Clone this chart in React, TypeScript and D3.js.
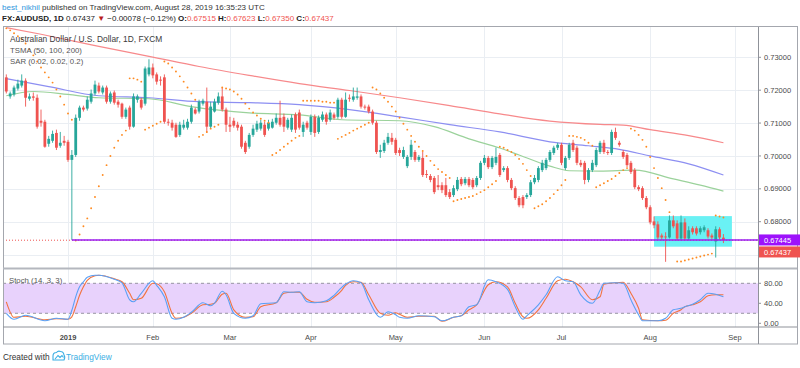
import React, { useEffect, useRef } from "react";
import * as d3 from "d3";

const W = 800;
const H = 368;
const FONT = "'Liberation Sans', Arial, sans-serif";

// trading-day index of the first session of each month shown on the time axis
const monthLabels = ["2019", "Feb", "Mar", "Apr", "May", "Jun", "Jul", "Aug", "Sep"];
const monthIdx = [16, 38, 58, 79, 101, 124, 144, 167, 189];

const priceTicks = [0.73, 0.72, 0.71, 0.7, 0.69, 0.68, 0.67];
const stochTicks = [80, 40, 0];

// daily OHLC, AUDUSD FXCM, Dec 2018 .. Aug 28 2019
const opens = [
  0.7239, 0.7181, 0.7187, 0.7205, 0.7214, 0.7229, 0.7174, 0.7181, 0.7177, 0.7107,
  0.7104, 0.7037, 0.7046, 0.707, 0.7031, 0.7046, 0.7043, 0.6988, 0.7003, 0.7116,
  0.7147, 0.7144, 0.7165, 0.719, 0.7214, 0.7193, 0.7208, 0.7165, 0.7193, 0.7165,
  0.7159, 0.7119, 0.7147, 0.7089, 0.7171, 0.7171, 0.7159, 0.7248, 0.7269, 0.7248,
  0.7232, 0.7239, 0.7104, 0.7101, 0.7095, 0.7064, 0.7086, 0.7086, 0.7104, 0.7141,
  0.7135, 0.7159, 0.7165, 0.7089, 0.7135, 0.7162, 0.7181, 0.7141, 0.7095, 0.7107,
  0.7095, 0.7089, 0.704, 0.7028, 0.7064, 0.708, 0.7083, 0.7095, 0.7083, 0.7086,
  0.7101, 0.7116, 0.7119, 0.7086, 0.708, 0.7126, 0.7132, 0.7073, 0.7101, 0.7073,
  0.7119, 0.7073, 0.711, 0.7126, 0.711, 0.7126, 0.7119, 0.7171, 0.7119, 0.7177,
  0.7171, 0.7177, 0.7181, 0.715, 0.715, 0.7135, 0.7101, 0.7012, 0.7015, 0.704,
  0.7055, 0.7049, 0.7018, 0.6997, 0.6969, 0.6997, 0.7012, 0.6988, 0.6994, 0.6945,
  0.6939, 0.6933, 0.6911, 0.6911, 0.6911, 0.689, 0.6881, 0.6899, 0.693, 0.6917,
  0.693, 0.6927, 0.6911, 0.6933, 0.6979, 0.6994, 0.6966, 0.6979, 0.7003, 0.6957,
  0.6963, 0.6927, 0.6902, 0.6872, 0.6875, 0.6875, 0.6881, 0.692, 0.6927, 0.6957,
  0.6963, 0.6988, 0.7009, 0.7025, 0.7034, 0.6963, 0.6994, 0.704, 0.7025, 0.6979,
  0.6979, 0.6927, 0.6957, 0.6972, 0.7012, 0.704, 0.7012, 0.7009, 0.7073, 0.704,
  0.7012, 0.7003, 0.6979, 0.6957, 0.6905, 0.6902, 0.6872, 0.6844, 0.6801, 0.6792,
  0.6758, 0.6755, 0.6752, 0.6804, 0.6795, 0.6749, 0.6798, 0.6749, 0.678, 0.678,
  0.6768, 0.6774, 0.6774, 0.6758, 0.674, 0.6777, 0.67515,
];
const highs = [
  0.7248, 0.7196, 0.7214, 0.7232, 0.7248, 0.7236, 0.719, 0.7193, 0.7187, 0.7141,
  0.711, 0.7061, 0.7077, 0.708, 0.7073, 0.7061, 0.7049, 0.7018, 0.7126, 0.7153,
  0.7153, 0.7181, 0.7202, 0.7229, 0.7223, 0.7214, 0.7214, 0.7196, 0.7199, 0.7171,
  0.7162, 0.7147, 0.7153, 0.719, 0.7187, 0.7177, 0.7272, 0.7294, 0.7281, 0.7254,
  0.7242, 0.7248, 0.7113, 0.711, 0.7101, 0.7104, 0.711, 0.7113, 0.7156, 0.7147,
  0.7171, 0.7174, 0.7208, 0.7165, 0.7174, 0.7193, 0.7208, 0.7147, 0.7119, 0.7116,
  0.7104, 0.7095, 0.7046, 0.707, 0.7095, 0.7107, 0.711, 0.7104, 0.711, 0.7113,
  0.7129, 0.7168, 0.7129, 0.7116, 0.7126, 0.7132, 0.7141, 0.7104, 0.7107, 0.7126,
  0.7126, 0.7123, 0.7135, 0.7132, 0.7141, 0.7132, 0.7177, 0.7177, 0.7193, 0.7187,
  0.7208, 0.7208, 0.7187, 0.7156, 0.7156, 0.7141, 0.7107, 0.7034, 0.7049, 0.707,
  0.707, 0.7055, 0.7025, 0.7028, 0.7003, 0.7049, 0.7018, 0.7003, 0.7012, 0.6957,
  0.6945, 0.6939, 0.6942, 0.692, 0.6933, 0.6899, 0.6911, 0.6936, 0.6936, 0.6936,
  0.6936, 0.6933, 0.6939, 0.6985, 0.7003, 0.7, 0.7, 0.7025, 0.7009, 0.6969,
  0.6969, 0.6933, 0.6908, 0.6878, 0.6881, 0.6887, 0.6927, 0.6942, 0.6969, 0.6988,
  0.6994, 0.7018, 0.7031, 0.704, 0.704, 0.7, 0.704, 0.7049, 0.7031, 0.6988,
  0.6985, 0.6963, 0.6988, 0.7025, 0.7046, 0.7049, 0.7018, 0.708, 0.7086, 0.7046,
  0.7018, 0.7009, 0.6985, 0.6963, 0.6911, 0.6908, 0.6878, 0.685, 0.6816, 0.6801,
  0.6764, 0.6768, 0.6819, 0.6819, 0.6804, 0.6819, 0.681, 0.6786, 0.6786, 0.6786,
  0.6786, 0.6789, 0.678, 0.6764, 0.6786, 0.6783, 0.67623,
];
const lows = [
  0.719, 0.7174, 0.7181, 0.7199, 0.7208, 0.715, 0.7168, 0.7168, 0.7083, 0.7089,
  0.7025, 0.7028, 0.704, 0.7018, 0.7025, 0.7031, 0.6982, 0.67445, 0.6997, 0.7107,
  0.7135, 0.7138, 0.7159, 0.7184, 0.719, 0.7187, 0.7159, 0.7159, 0.7156, 0.7147,
  0.7113, 0.7113, 0.708, 0.7086, 0.7162, 0.7141, 0.7153, 0.7242, 0.7236, 0.7217,
  0.7214, 0.7098, 0.7092, 0.7077, 0.7055, 0.7058, 0.708, 0.708, 0.7098, 0.7126,
  0.7129, 0.7153, 0.707, 0.7083, 0.7132, 0.7156, 0.7135, 0.7073, 0.7073, 0.7086,
  0.7077, 0.7022, 0.7006, 0.7022, 0.7058, 0.7073, 0.7077, 0.7058, 0.7077, 0.7083,
  0.7095, 0.7089, 0.7073, 0.708, 0.7073, 0.707, 0.708, 0.7058, 0.708, 0.7064,
  0.7058, 0.7067, 0.7104, 0.7095, 0.7104, 0.711, 0.7113, 0.7113, 0.7116, 0.7165,
  0.7165, 0.7171, 0.7144, 0.7141, 0.7129, 0.7095, 0.7006, 0.6994, 0.7009, 0.7034,
  0.7034, 0.7003, 0.7, 0.6991, 0.6963, 0.6988, 0.6982, 0.6982, 0.6936, 0.6933,
  0.692, 0.6884, 0.6896, 0.6887, 0.6875, 0.6869, 0.6875, 0.6893, 0.6908, 0.6911,
  0.6905, 0.6899, 0.6905, 0.6927, 0.6972, 0.696, 0.696, 0.6972, 0.6936, 0.6951,
  0.692, 0.6896, 0.6866, 0.6844, 0.6841, 0.6869, 0.6875, 0.6914, 0.692, 0.6951,
  0.6957, 0.6982, 0.7003, 0.7018, 0.6972, 0.6957, 0.6988, 0.7012, 0.6972, 0.6966,
  0.6914, 0.692, 0.6951, 0.6966, 0.7006, 0.7006, 0.7003, 0.7003, 0.7049, 0.7028,
  0.6991, 0.6966, 0.6945, 0.6899, 0.6893, 0.6866, 0.6838, 0.6792, 0.678, 0.6746,
  0.6743, 0.6678, 0.6749, 0.678, 0.6743, 0.6743, 0.6743, 0.6743, 0.6761, 0.6758,
  0.6761, 0.6768, 0.6749, 0.6746, 0.6691, 0.6746, 0.6735,
];
const closes = [
  0.7196, 0.719, 0.7208, 0.722, 0.7229, 0.7177, 0.7181, 0.7177, 0.7089, 0.7101,
  0.7028, 0.7052, 0.7067, 0.7025, 0.704, 0.704, 0.6988, 0.7003, 0.7116, 0.7147,
  0.7141, 0.7171, 0.719, 0.7217, 0.7196, 0.7208, 0.7165, 0.719, 0.7162, 0.7156,
  0.7119, 0.7141, 0.7089, 0.7181, 0.7181, 0.7147, 0.7266, 0.7269, 0.7245, 0.7226,
  0.7229, 0.7104, 0.7101, 0.7086, 0.7058, 0.7095, 0.7095, 0.7104, 0.7147, 0.7129,
  0.7165, 0.7168, 0.7089, 0.715, 0.7165, 0.7181, 0.7141, 0.7095, 0.7089, 0.7092,
  0.7086, 0.7028, 0.7012, 0.7064, 0.7083, 0.7098, 0.7101, 0.7064, 0.7101, 0.7104,
  0.7116, 0.7095, 0.7089, 0.711, 0.7116, 0.708, 0.7086, 0.7095, 0.7086, 0.7119,
  0.707, 0.7116, 0.7126, 0.7104, 0.7132, 0.7116, 0.7171, 0.7119, 0.7171, 0.7174,
  0.7181, 0.7181, 0.715, 0.7147, 0.7135, 0.7101, 0.7012, 0.7018, 0.704, 0.7058,
  0.7043, 0.7009, 0.7009, 0.7018, 0.6997, 0.7034, 0.6988, 0.6997, 0.6942, 0.6942,
  0.6927, 0.689, 0.6905, 0.6896, 0.6881, 0.6875, 0.6902, 0.6927, 0.6914, 0.693,
  0.6911, 0.6905, 0.6933, 0.6979, 0.6994, 0.6966, 0.6994, 0.6997, 0.6942, 0.6963,
  0.6927, 0.6902, 0.6872, 0.685, 0.685, 0.6881, 0.692, 0.6933, 0.6963, 0.6979,
  0.6988, 0.7012, 0.7025, 0.7034, 0.6979, 0.6994, 0.7034, 0.7018, 0.6979, 0.6972,
  0.6927, 0.6957, 0.6979, 0.7018, 0.704, 0.7012, 0.7009, 0.7073, 0.7055, 0.7034,
  0.6997, 0.6972, 0.6951, 0.6905, 0.6899, 0.6872, 0.6844, 0.6798, 0.6789, 0.6752,
  0.6752, 0.6753, 0.6804, 0.6786, 0.6749, 0.6798, 0.6749, 0.6774, 0.6768, 0.6764,
  0.678, 0.6783, 0.6755, 0.6752, 0.6777, 0.6752, 0.67437,
];

// moving averages: [day index, price]
const ma50: [number, number][] = [
  [0, 0.7183], [7, 0.7196], [16, 0.7187], [24, 0.7177], [37, 0.7174], [48, 0.715],
  [63, 0.7131], [76, 0.7125], [87, 0.711], [102, 0.7107], [111, 0.7089], [120, 0.7052],
  [128, 0.7024], [133, 0.7003], [141, 0.6969], [146, 0.6955], [154, 0.6954], [163, 0.6957],
  [173, 0.693], [180, 0.6911], [186, 0.6893],
];
const ma100: [number, number][] = [
  [0, 0.7235], [11, 0.7211], [24, 0.7183], [37, 0.7177], [50, 0.7165], [63, 0.7162],
  [76, 0.7156], [89, 0.7141], [102, 0.7119], [115, 0.7095], [128, 0.7073], [141, 0.7043],
  [151, 0.7031], [159, 0.702], [167, 0.7], [177, 0.6976], [186, 0.6942],
];
const ma200: [number, number][] = [
  [0, 0.739], [9, 0.737], [24, 0.7333], [37, 0.7303], [50, 0.7272], [63, 0.7245],
  [76, 0.722], [89, 0.7199], [102, 0.7177], [115, 0.7153], [128, 0.7128], [141, 0.7106],
  [154, 0.7096], [160, 0.7094], [167, 0.708], [177, 0.7062], [186, 0.704],
];

// parabolic SAR dots: [day index, price]
const sar: [number, number][] = [
  [0, 0.7388], [1, 0.7382], [2, 0.7373], [3, 0.7364], [4, 0.7355], [5, 0.7342], [6, 0.7324],
  [7, 0.7306], [8, 0.7287], [9, 0.7269], [10, 0.7254], [11, 0.7239], [12, 0.7223], [13, 0.7202],
  [14, 0.7181], [15, 0.7156], [16, 0.7129], [17, 0.711],
  [18, 0.6743], [19, 0.6761], [20, 0.6786], [21, 0.681], [22, 0.6841], [23, 0.6875], [24, 0.6908],
  [25, 0.6942], [26, 0.6972], [27, 0.7], [28, 0.7025], [29, 0.7046], [30, 0.7064], [31, 0.7077],
  [32, 0.7236], [33, 0.7236], [34, 0.7232], [35, 0.7226],
  [36, 0.708], [37, 0.7086], [38, 0.7092], [39, 0.7098], [40, 0.7104],
  [41, 0.7287], [42, 0.7281], [43, 0.7269], [44, 0.7257], [45, 0.7242], [46, 0.7226], [47, 0.7208],
  [48, 0.719], [49, 0.7171],
  [50, 0.7058], [51, 0.7064], [52, 0.7073], [53, 0.7083], [54, 0.7089], [55, 0.7095],
  [56, 0.7208], [57, 0.7205], [58, 0.7202], [59, 0.7196], [60, 0.7187], [61, 0.7174], [62, 0.7159],
  [63, 0.7144], [64, 0.7132], [65, 0.7123], [66, 0.7113], [67, 0.7107], [68, 0.7101],
  [69, 0.7003], [70, 0.7009], [71, 0.7018], [72, 0.7028], [73, 0.7037], [74, 0.7046], [75, 0.7055],
  [76, 0.7061],
  [77, 0.7168], [78, 0.7168], [79, 0.7168], [80, 0.7168], [81, 0.7168], [82, 0.7165], [83, 0.7165],
  [84, 0.7162], [85, 0.7162],
  [86, 0.7052], [87, 0.7058], [88, 0.7064], [89, 0.707], [90, 0.7077], [91, 0.7083], [92, 0.7089],
  [93, 0.7095], [94, 0.7101],
  [95, 0.7208], [96, 0.7202], [97, 0.719], [98, 0.7177], [99, 0.7165], [100, 0.715], [101, 0.7135],
  [102, 0.7116], [103, 0.7098], [104, 0.708], [105, 0.7061], [106, 0.7043], [107, 0.7028],
  [108, 0.7015], [109, 0.7], [110, 0.6985], [111, 0.6972], [112, 0.696], [113, 0.6951],
  [114, 0.6942], [115, 0.6933],
  [116, 0.6862], [117, 0.6866], [118, 0.6869], [119, 0.6872], [120, 0.6875], [121, 0.6878],
  [122, 0.6884], [123, 0.689], [124, 0.6896], [125, 0.6905], [126, 0.6914], [127, 0.6924],
  [128, 0.7028], [129, 0.7025], [130, 0.7018], [131, 0.7012], [132, 0.7003], [133, 0.6991],
  [134, 0.6976], [135, 0.6957], [136, 0.6939],
  [137, 0.6841], [138, 0.6847], [139, 0.6853], [140, 0.6862], [141, 0.6872], [142, 0.6884],
  [143, 0.6896], [144, 0.6911], [145, 0.6927],
  [146, 0.7061], [147, 0.7061], [148, 0.7058], [149, 0.7055], [150, 0.7049], [151, 0.704], [152, 0.7031],
  [153, 0.6905], [154, 0.6911], [155, 0.6917], [156, 0.6924], [157, 0.693], [158, 0.6939],
  [159, 0.6948], [160, 0.6957], [161, 0.6963],
  [162, 0.7083], [163, 0.7077], [164, 0.7064], [165, 0.7049], [166, 0.7028], [167, 0.6997],
  [168, 0.6963], [169, 0.6933], [170, 0.6902], [171, 0.6866], [172, 0.6829],
  [174, 0.6679], [175, 0.6679], [176, 0.6682], [177, 0.6685], [178, 0.6688], [179, 0.6691],
  [180, 0.6694], [181, 0.6697], [182, 0.67], [183, 0.6703],
  [184, 0.6819], [185, 0.6816], [186, 0.6813],
];

// Stoch (14,3,3): [day index, value]
const stochK: [number, number][] = [
  [0, 20], [2, 8], [5, 16], [10, 5], [13, 10], [16, 8], [17, 26], [18, 53], [19, 73], [20, 83],
  [21, 92], [23, 96], [24, 96], [28, 88], [30, 81], [32, 47], [33, 43], [35, 60], [38, 85], [39, 76],
  [41, 53], [43, 10], [44, 8], [46, 12], [48, 22], [51, 41], [53, 35], [54, 40], [56, 64], [57, 57],
  [59, 20], [62, 10], [64, 15], [66, 39], [70, 41], [72, 63], [74, 62], [76, 63], [78, 43], [80, 41],
  [83, 45], [85, 56], [87, 72], [88, 78], [90, 85], [92, 81], [94, 47], [97, 12], [99, 23], [101, 17],
  [102, 12], [104, 10], [107, 15], [111, 13], [113, 5], [116, 12], [118, 15], [120, 33], [122, 37],
  [125, 87], [127, 83], [130, 68], [132, 33], [134, 8], [135, 15], [138, 37], [140, 57], [143, 93],
  [145, 85], [147, 83], [149, 57], [152, 40], [154, 66], [155, 80], [158, 81], [160, 80], [162, 47],
  [164, 17], [165, 5], [169, 5], [171, 10], [173, 27], [175, 30], [176, 33], [178, 38], [180, 47],
  [182, 60], [184, 58], [186, 53],
];
const stochD: [number, number][] = [
  [0, 43], [2, 12], [5, 14], [10, 7], [13, 9], [16, 8], [17, 13], [18, 33], [19, 56], [20, 73],
  [21, 86], [23, 95], [24, 96], [28, 89], [30, 83], [32, 60], [33, 47], [35, 50], [38, 80], [39, 79],
  [41, 63], [43, 20], [44, 10], [46, 12], [48, 20], [51, 37], [53, 38], [54, 40], [56, 58], [57, 60],
  [59, 27], [62, 12], [64, 13], [66, 33], [70, 41], [72, 60], [74, 62], [76, 62], [78, 48], [80, 42],
  [83, 43], [85, 52], [87, 66], [88, 76], [90, 83], [92, 82], [94, 57], [97, 20], [99, 16], [101, 21],
  [102, 18], [104, 12], [107, 14], [111, 14], [113, 4], [116, 12], [118, 15], [120, 27], [122, 37],
  [125, 77], [127, 83], [130, 73], [132, 40], [134, 13], [135, 10], [138, 27], [140, 50], [143, 85],
  [145, 88], [147, 83], [149, 73], [152, 47], [154, 53], [155, 78], [158, 81], [160, 82], [162, 60],
  [164, 30], [165, 7], [169, 5], [171, 6], [173, 20], [175, 27], [176, 33], [178, 37], [180, 43],
  [182, 55], [184, 57], [186, 57],
];

// drawings on the chart
const flashLow = 0.67445;
const flashIdx = 17;
const rangeBox = { from: 168, to: 188.2, top: 0.6817, bottom: 0.6724 };

const UP = "#26a69a";
const DOWN = "#ef5350";

function draw(el: SVGSVGElement) {
  const svg = d3.select(el);
  svg.selectAll("*").remove();

  const left = 3, axisX = 758, right = 797;
  const pTop = 27, pBot = 268, sTop = 269, sBot = 327, bottom = 344;

  const x = d3.scaleLinear().domain([16, 189]).range([68, 735]);
  const y = d3.scaleLinear().domain([0.68, 0.73]).range([221.7, 57.3]);
  const ys = d3.scaleLinear().domain([0, 80]).range([323.3, 283.3]);

  svg.append("rect").attr("width", W).attr("height", H).attr("fill", "#fff");

  const defs = svg.append("defs");
  defs.append("clipPath").attr("id", "cp-price").append("rect")
    .attr("x", left).attr("y", pTop).attr("width", axisX - left).attr("height", pBot - pTop);
  defs.append("clipPath").attr("id", "cp-stoch").append("rect")
    .attr("x", left).attr("y", sTop).attr("width", axisX - left).attr("height", sBot - sTop);

  // grid
  const grid = svg.append("g").attr("stroke", "#eaeef3").attr("stroke-width", 1);
  priceTicks.forEach(t => {
    grid.append("line").attr("x1", left).attr("x2", axisX)
      .attr("y1", Math.round(y(t)) + 0.5).attr("y2", Math.round(y(t)) + 0.5);
  });
  monthIdx.forEach(i => {
    grid.append("line").attr("x1", Math.round(x(i)) + 0.5).attr("x2", Math.round(x(i)) + 0.5)
      .attr("y1", pTop).attr("y2", sBot);
  });

  const pg = svg.append("g").attr("clip-path", "url(#cp-price)");

  // consolidation box
  pg.append("rect")
    .attr("x", x(rangeBox.from)).attr("width", x(rangeBox.to) - x(rangeBox.from))
    .attr("y", y(rangeBox.top)).attr("height", y(rangeBox.bottom) - y(rangeBox.top))
    .attr("fill", "#6af1f4");

  // moving averages
  const maLine = d3.line<[number, number]>().x(d => x(d[0])).y(d => y(d[1])).curve(d3.curveMonotoneX);
  pg.append("path").datum(ma200).attr("d", maLine).attr("fill", "none").attr("stroke", "#f7898b").attr("stroke-width", 1.2);
  pg.append("path").datum(ma100).attr("d", maLine).attr("fill", "none").attr("stroke", "#8d8ff2").attr("stroke-width", 1.2);
  pg.append("path").datum(ma50).attr("d", maLine).attr("fill", "none").attr("stroke", "#9bd29b").attr("stroke-width", 1.2);

  // candles
  const bw = 2.8;
  closes.forEach((c, i) => {
    const o = opens[i];
    const col = c >= o ? UP : DOWN;
    const cx = x(i);
    pg.append("line").attr("x1", cx).attr("x2", cx).attr("y1", y(highs[i])).attr("y2", y(lows[i]))
      .attr("stroke", col).attr("stroke-width", 0.9);
    const top = y(Math.max(o, c));
    const h = Math.max(0.9, y(Math.min(o, c)) - top);
    pg.append("rect").attr("x", cx - bw / 2).attr("y", top).attr("width", bw).attr("height", h).attr("fill", col);
  });

  // SAR
  pg.selectAll(".sar").data(sar).enter().append("circle")
    .attr("cx", d => x(d[0])).attr("cy", d => y(d[1])).attr("r", 0.95).attr("fill", "#ff8a1f");

  // last price line + flash-crash low line
  const last = closes[closes.length - 1];
  svg.append("line").attr("x1", left).attr("x2", axisX).attr("y1", y(last)).attr("y2", y(last))
    .attr("stroke", DOWN).attr("stroke-width", 1).attr("stroke-dasharray", "1,2");
  svg.append("line").attr("x1", x(flashIdx)).attr("x2", axisX).attr("y1", y(flashLow)).attr("y2", y(flashLow))
    .attr("stroke", "#9a1ff0").attr("stroke-width", 1.6);

  // legend
  const lg = svg.append("g").attr("font-family", FONT);
  lg.append("text").attr("x", 10).attr("y", 42).attr("font-size", 8.4).attr("fill", "#3b3b3b")
    .text("Australian Dollar / U.S. Dollar, 1D, FXCM");
  lg.append("text").attr("x", 10).attr("y", 53).attr("font-size", 7.8).attr("fill", "#555")
    .text("TSMA (50, 100, 200)");
  lg.append("text").attr("x", 10).attr("y", 64).attr("font-size", 7.8).attr("fill", "#555")
    .text("SAR (0.02, 0.02, 0.2)");

  // stoch pane
  svg.append("rect").attr("x", left).attr("width", axisX - left)
    .attr("y", ys(80)).attr("height", ys(20) - ys(80)).attr("fill", "#e8d2fc");
  [80, 20].forEach(v => {
    svg.append("line").attr("x1", left).attr("x2", axisX).attr("y1", ys(v)).attr("y2", ys(v))
      .attr("stroke", "#80808a").attr("stroke-width", 0.8).attr("stroke-dasharray", "3,3");
  });
  const sg = svg.append("g").attr("clip-path", "url(#cp-stoch)");
  const sLine = d3.line<[number, number]>().x(d => x(d[0])).y(d => ys(d[1])).curve(d3.curveMonotoneX);
  sg.append("path").datum(stochD).attr("d", sLine).attr("fill", "none").attr("stroke", "#f2733f").attr("stroke-width", 1.1);
  sg.append("path").datum(stochK).attr("d", sLine).attr("fill", "none").attr("stroke", "#5aa0f5").attr("stroke-width", 1.1);
  svg.append("text").attr("x", 9).attr("y", 283).attr("font-family", FONT).attr("font-size", 7.8)
    .attr("fill", "#555").text("Stoch (14, 3, 3)");

  // frame and separators
  svg.append("rect").attr("x", left + 0.5).attr("y", pTop - 0.5).attr("width", right - left)
    .attr("height", bottom - pTop + 0.5).attr("fill", "none").attr("stroke", "#a4a7ae").attr("stroke-width", 1);
  svg.append("line").attr("x1", left).attr("x2", right).attr("y1", 268.5).attr("y2", 268.5)
    .attr("stroke", "#b4b7be").attr("stroke-width", 2);
  svg.append("line").attr("x1", left).attr("x2", right).attr("y1", sBot).attr("y2", sBot)
    .attr("stroke", "#8f9299").attr("stroke-width", 1);
  svg.append("line").attr("x1", axisX + 0.5).attr("x2", axisX + 0.5).attr("y1", pTop).attr("y2", bottom)
    .attr("stroke", "#8f9299").attr("stroke-width", 1);

  // price labels (flash-crash level and last close)
  const lblY1 = y(flashLow);
  const lblY2 = lblY1 + 12;

  // price axis; a tick label hidden under the price labels is left out, as the chart does
  const ax = svg.append("g").attr("font-family", FONT).attr("font-size", 7.5).attr("fill", "#4a4a4a");
  priceTicks.forEach(t => {
    const yy = y(t);
    ax.append("line").attr("x1", axisX).attr("x2", axisX + 3).attr("y1", yy).attr("y2", yy).attr("stroke", "#8f9299");
    if (Math.abs(yy - lblY2) > 9 && Math.abs(yy - lblY1) > 9) {
      ax.append("text").attr("x", axisX + 6).attr("y", yy).attr("dy", "0.35em").text(t.toFixed(5));
    }
  });
  stochTicks.forEach(t => {
    const yy = ys(t);
    ax.append("line").attr("x1", axisX).attr("x2", axisX + 3).attr("y1", yy).attr("y2", yy).attr("stroke", "#8f9299");
    ax.append("text").attr("x", axisX + 6).attr("y", yy).attr("dy", "0.35em").text(t.toFixed(2));
  });

  svg.append("rect").attr("x", axisX + 1).attr("y", lblY1 - 5.5).attr("width", right + 3 - axisX).attr("height", 11).attr("fill", "#9d12fb");
  svg.append("text").attr("x", axisX + 6).attr("y", lblY1).attr("dy", "0.35em").attr("font-family", FONT)
    .attr("font-size", 7.5).attr("fill", "#fff").text(flashLow.toFixed(5));
  svg.append("rect").attr("x", axisX + 1).attr("y", lblY2 - 5.5).attr("width", right + 3 - axisX).attr("height", 11).attr("fill", DOWN);
  svg.append("text").attr("x", axisX + 6).attr("y", lblY2).attr("dy", "0.35em").attr("font-family", FONT)
    .attr("font-size", 7.5).attr("fill", "#fff").text(last.toFixed(5));

  // time axis
  monthLabels.forEach((m, k) => {
    svg.append("text").attr("x", x(monthIdx[k])).attr("y", 340).attr("text-anchor", "middle")
      .attr("font-family", FONT).attr("font-size", 7.5).attr("fill", "#4a4a4a")
      .attr("font-weight", k === 0 ? "bold" : "normal").text(m);
  });

  // header
  const hd = svg.append("g").attr("font-family", FONT).attr("font-size", 8);
  const t1 = hd.append("text").attr("x", 2).attr("y", 10);
  t1.append("tspan").attr("fill", "#2f96dc").text("best_nikhil");
  t1.append("tspan").attr("fill", "#333").text(" published on TradingView.com, August 28, 2019 16:35:23 UTC");
  const t2 = hd.append("text").attr("x", 2).attr("y", 21).attr("fill", "#222");
  t2.append("tspan").attr("font-weight", "bold").text("FX:AUDUSD, 1D");
  t2.append("tspan").text("  0.67437 ");
  t2.append("tspan").attr("fill", "#b71c1c").text("▼");
  t2.append("tspan").text(" −0.00078 (−0.12%) ");
  const ohlc: [string, number][] = [["O:", opens[186]], ["H:", highs[186]], ["L:", lows[186]], ["C:", closes[186]]];
  ohlc.forEach(([k, v]) => {
    t2.append("tspan").attr("font-weight", "bold").text(k);
    t2.append("tspan").attr("fill", DOWN).text(v.toFixed(5) + " ");
  });

  // footer
  const ft = svg.append("g").attr("font-family", FONT).attr("font-size", 8.3);
  ft.append("text").attr("x", 3).attr("y", 360).attr("fill", "#333").text("Created with");
  ft.append("path")
    .attr("d", "M53,360 L53,356 Q53,352.5 56.5,352.5 Q58,350.5 60.5,351.5 Q63.5,351.5 64,355 Q65.5,357 64,360 Z M55,359 L58,355.5 L60,357.5 L62,355.5 L63.5,357.5")
    .attr("fill", "none").attr("stroke", "#3aaee3").attr("stroke-width", 1.1);
  ft.append("text").attr("x", 66).attr("y", 360).attr("fill", "#3aaee3").text("TradingView");
}

export default function App() {
  const ref = useRef<SVGSVGElement>(null);
  useEffect(() => {
    if (ref.current) draw(ref.current);
  }, []);
  return (
    <svg ref={ref} width={W} height={H} style={{ position: "absolute", left: 0, top: 0, display: "block" }} />
  );
}
